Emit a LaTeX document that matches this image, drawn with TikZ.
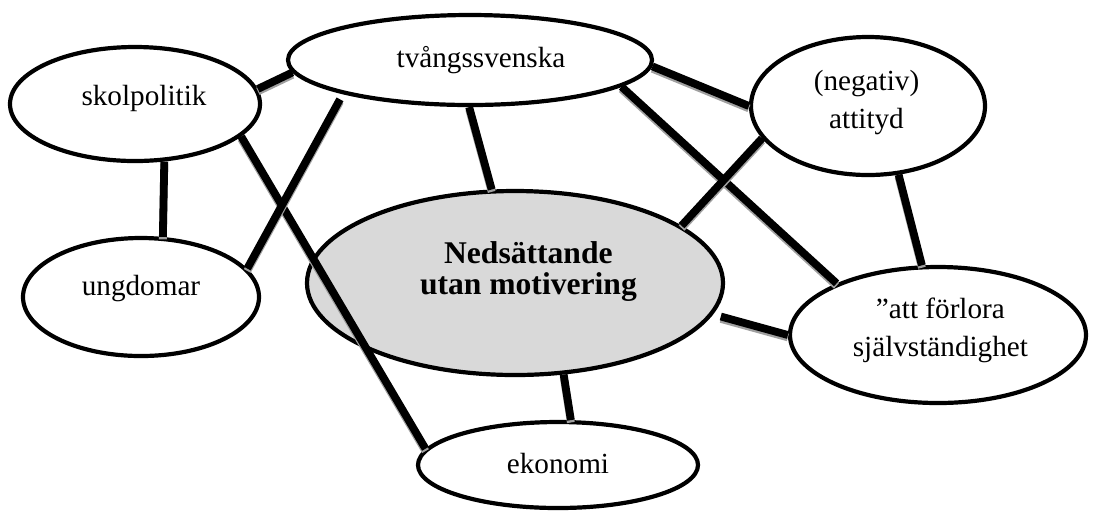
\documentclass[tikz,border=0pt]{standalone}
\usepackage{fontspec}
\setmainfont{Liberation Serif}
\usetikzlibrary{shapes.geometric}
\definecolor{shadowgray}{HTML}{A0A0A0}
\definecolor{centerfill}{HTML}{D9D9D9}
\begin{document}
\begin{tikzpicture}[x=0.5pt,y=-0.5pt,
  bubble/.style={ellipse, draw=black, line width=2.1pt, fill=white, inner sep=0pt},
  conn/.style={line width=3.9pt, draw=black,
    preaction={draw=shadowgray, line width=3.9pt, transform canvas={yshift=-1.2pt}}},
  txt/.style={font=\fontsize{14.6}{19}\selectfont, align=center, inner sep=0pt},
  bigtxt/.style={font=\fontsize{15.8}{15.5}\selectfont\bfseries, align=center, inner sep=0pt},
]
\useasboundingbox (0,0) rectangle (1103,511);

\node[bubble, minimum width=125pt, minimum height=57pt,
  label={[txt, xshift=4.5pt, yshift=2.9pt]center:skolpolitik}] (skol) at (135,104) {};
\node[bubble, minimum width=182pt, minimum height=45pt,
  label={[txt, xshift=5.5pt, yshift=0pt]center:tvångssvenska}] (tvang) at (470,60) {};
\node[bubble, minimum width=117pt, minimum height=69pt,
  label={[txt, xshift=-0.75pt, yshift=1.5pt]center:{(negativ)\\attityd}}] (att) at (868,106) {};
\node[bubble, minimum width=118pt, minimum height=59pt,
  label={[txt, xshift=0pt, yshift=4.3pt]center:ungdomar}] (ung) at (141,297) {};
\node[bubble, fill=centerfill, minimum width=208pt, minimum height=92pt,
  label={[bigtxt, xshift=6.7pt, yshift=5.9pt]center:{Nedsättande\\utan motivering}}] (central) at (515,283) {};
\node[bubble, minimum width=140pt, minimum height=43pt,
  label={[txt, xshift=0pt, yshift=1pt]center:ekonomi}] (eko) at (558,465) {};
\node[bubble, minimum width=148pt, minimum height=68pt,
  label={[txt, xshift=1.2pt, yshift=2.3pt]center:{”att förlora\\självständighet}}] (forl) at (938,335) {};

\draw[conn] (skol.7) -- (tvang.184);
\draw[conn] (skol.-63) -- (ung.70);
\draw[conn] (skol.-17) -- (eko.173);
\draw[conn, shorten <=3pt] (tvang.195) -- (ung.15);
\draw[conn] (tvang.-91.5) -- (central.104.6);
\draw[conn] (tvang.-2.5) -- (att.180);
\draw[conn] (tvang.-10) -- (forl.153);
\draw[conn] (att.197) -- (central.19.6);
\draw[conn] (att.-66) -- (forl.103);
\draw[conn, shorten <=4pt] (central.-9) -- (forl.180);
\draw[conn] (central.-62.4) -- (eko.74);
\end{tikzpicture}
\end{document}
